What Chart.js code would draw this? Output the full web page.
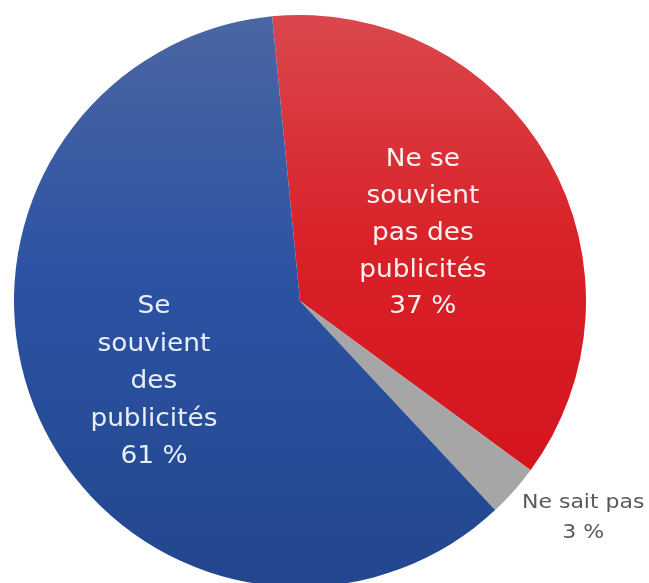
<!DOCTYPE html>
<html lang="fr">
<head>
    <meta charset="UTF-8">
    <title>Publicités</title>
    <script src="https://cdn.jsdelivr.net/npm/chart.js"></script>
    <style>
        html, body { margin: 0; padding: 0; background: #fff; overflow: hidden; }
        #wrap { width: 649px; height: 583px; overflow: hidden; }
    </style>
</head>
<body>
<div id="wrap">
    <canvas id="chart" width="649" height="590"></canvas>
</div>
<script>
    // données
    var categories = ['Ne se souvient pas des publicités', 'Ne sait pas', 'Se souvient des publicités'];
    var valeurs = [37, 3, 61];
    var etiquettes = [
        ['Ne se', 'souvient', 'pas des', 'publicités', '37 %'],
        ['Ne sait pas', '3 %'],
        ['Se', 'souvient', 'des', 'publicités', '61 %']
    ];

    // placement des étiquettes : fraction du rayon, décalage d'angle (degrés)
    var placement = [
        { f: 0.49, da: 0.9, taille: 24, interligne: 36.8, couleur: '#fbf1f1' },
        { f: 1.247, da: -4.2, taille: 20, interligne: 30, couleur: '#5a5a5a' },
        { f: 0.584, da: -4.7, taille: 24, interligne: 37.5, couleur: '#e9eef8' }
    ];

    var degrades = [
        [[0, '#d9484d'], [0.4, '#d92128'], [1, '#d20f1a']],
        null,
        [[0, '#4b66a3'], [0.45, '#2c53a3'], [1, '#22478e']]
    ];
    var unies = ['#d81e26', '#a6a6a6', '#2b52a0'];

    function couleur(c) {
        var area = c.chart.chartArea;
        var stops = degrades[c.dataIndex];
        if (!area || !stops) return unies[c.dataIndex];
        var g = c.chart.ctx.createLinearGradient(0, area.top, 0, area.bottom);
        stops.forEach(function (s) { g.addColorStop(s[0], s[1]); });
        return g;
    }

    var etiquettesPlugin = {
        id: 'etiquettes',
        afterDatasetsDraw: function (chart) {
            var ctx = chart.ctx;
            var arcs = chart.getDatasetMeta(0).data;
            arcs.forEach(function (arc, i) {
                var p = placement[i];
                var a = (arc.startAngle + arc.endAngle) / 2 + p.da * Math.PI / 180;
                var x = arc.x + Math.cos(a) * arc.outerRadius * p.f;
                var y = arc.y + Math.sin(a) * arc.outerRadius * p.f;
                var lignes = etiquettes[i];
                var y0 = y - (lignes.length - 1) * p.interligne / 2;
                ctx.save();
                ctx.fillStyle = p.couleur;
                ctx.font = p.taille + 'px "DejaVu Sans"';
                ctx.textAlign = 'center';
                ctx.textBaseline = 'middle';
                lignes.forEach(function (l, k) {
                    ctx.save();
                    ctx.translate(x, y0 + k * p.interligne);
                    ctx.scale(1.1, 1);
                    ctx.fillText(l, 0, 0);
                    ctx.restore();
                });
                ctx.restore();
            });
        }
    };

    var chart = new Chart(document.getElementById('chart').getContext('2d'), {
        type: 'pie',
        data: {
            labels: categories,
            datasets: [{
                data: valeurs,
                backgroundColor: couleur,
                borderWidth: 0
            }]
        },
        options: {
            responsive: false,
            animation: false,
            rotation: -5.6,
            layout: { padding: { left: 14, right: 63, top: 15, bottom: 3 } },
            plugins: {
                legend: { display: false },
                tooltip: { enabled: false }
            }
        },
        plugins: [etiquettesPlugin]
    });
</script>
</body>
</html>
